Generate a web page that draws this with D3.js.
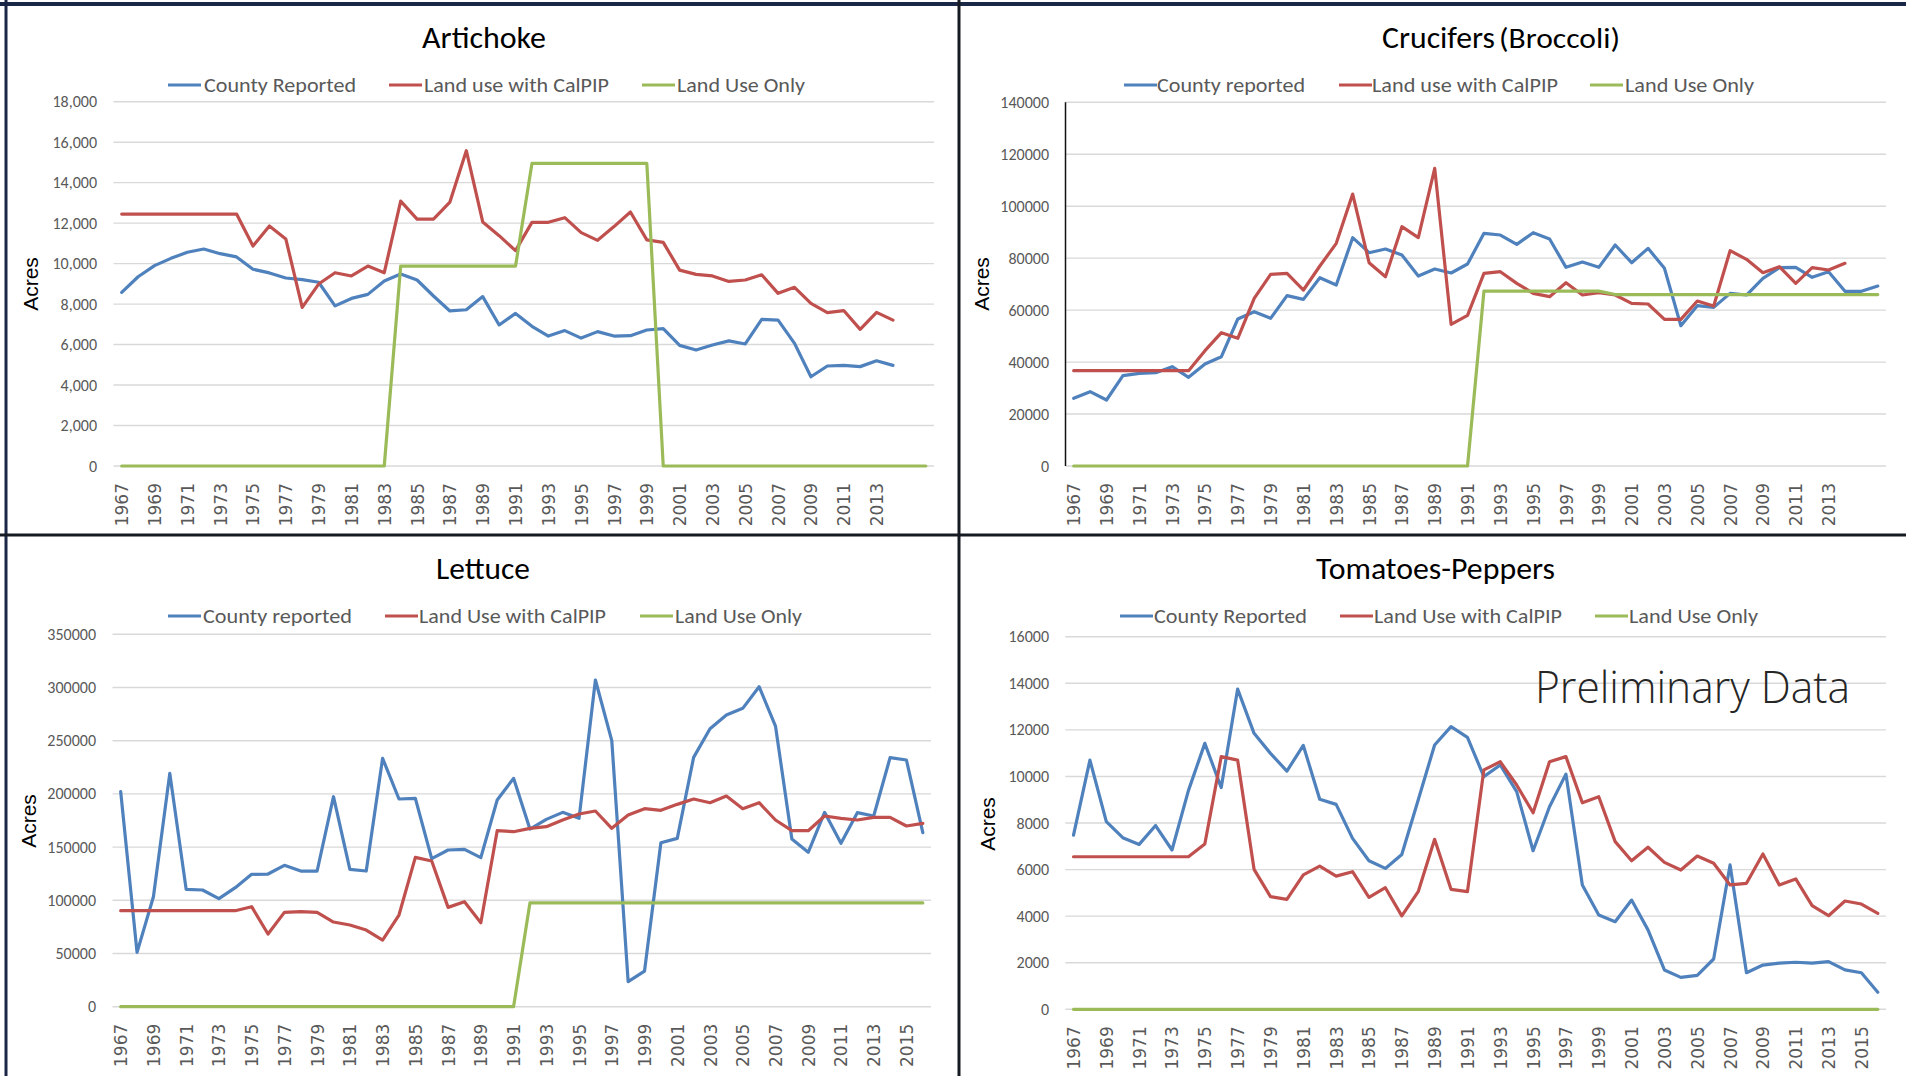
<!DOCTYPE html>
<html>
<head>
<meta charset="utf-8">
<script src="https://cdn.jsdelivr.net/npm/d3@7"></script>
<style>
  body { margin: 0; background: #fff; }
  svg { display: block; }
</style>
</head>
<body>
<svg id="chart" width="1906" height="1076"></svg>
<script>
// ---- data ----
const years = [1967, 1968, 1969, 1970, 1971, 1972, 1973, 1974, 1975, 1976,
               1977, 1978, 1979, 1980, 1981, 1982, 1983, 1984, 1985, 1986,
               1987, 1988, 1989, 1990, 1991, 1992, 1993, 1994, 1995, 1996,
               1997, 1998, 1999, 2000, 2001, 2002, 2003, 2004, 2005, 2006,
               2007, 2008, 2009, 2010, 2011, 2012, 2013, 2014, 2015, 2016];

// every other year gets a label; the top charts stop at 2013
const tickYearsTop = [1967, 1969, 1971, 1973, 1975, 1977, 1979, 1981, 1983, 1985, 1987, 1989,
                      1991, 1993, 1995, 1997, 1999, 2001, 2003, 2005, 2007, 2009, 2011, 2013];
const tickYearsBottom = [1967, 1969, 1971, 1973, 1975, 1977, 1979, 1981, 1983, 1985, 1987, 1989,
                         1991, 1993, 1995, 1997, 1999, 2001, 2003, 2005, 2007, 2009, 2011, 2013, 2015];

// Artichoke (1967-2014 for the first two series)
const artichokeCounty = [8580, 9350, 9900, 10260, 10560, 10720, 10490, 10330, 9720, 9540,
                         9290, 9210, 9080, 7910, 8280, 8480, 9140, 9490, 9190, 8400,
                         7660, 7720, 8370, 6970, 7540, 6900, 6420, 6690, 6320, 6640,
                         6420, 6440, 6720, 6790, 5960, 5730, 5980, 6180, 6030, 7250,
                         7210, 6060, 4410, 4940, 4970, 4910, 5200, 4970];
const artichokeCalPIP = [12450, 12450, 12450, 12450, 12450, 12450, 12450, 12450, 10870, 11860,
                         11220, 7840, 8990, 9550, 9390, 9880, 9550, 13090, 12200, 12200,
                         13040, 15580, 12060, 11380, 10640, 12040, 12040, 12270, 11530, 11150,
                         11830, 12550, 11170, 11050, 9680, 9470, 9390, 9120, 9190, 9450,
                         8530, 8830, 8040, 7580, 7680, 6750, 7590, 7210];
const artichokeLandUse = [0, 0, 0, 0, 0, 0, 0, 0, 0, 0,
                          0, 0, 0, 0, 0, 0, 0, 9880, 9880, 9880,
                          9880, 9880, 9880, 9880, 9880, 14950, 14950, 14950, 14950, 14950,
                          14950, 14950, 14950, 0, 0, 0, 0, 0, 0, 0,
                          0, 0, 0, 0, 0, 0, 0, 0, 0, 0];
const artichokeTicks = [0, 2000, 4000, 6000, 8000, 10000, 12000, 14000, 16000, 18000];
const artichokeLegend = ["County Reported", "Land use with CalPIP", "Land Use Only"];

// Crucifers (Broccoli)
const cruciferCounty = [26050, 28610, 25400, 34770, 35670, 35920, 38230, 34130, 39260, 42080,
                        56580, 59400, 56840, 65560, 64150, 72490, 69670, 87890, 82110, 83520,
                        81210, 73130, 75830, 74290, 77750, 89550, 88910, 85320, 89810, 87370,
                        76470, 78520, 76470, 85060, 78260, 83780, 76080, 54010, 61710, 61070,
                        66460, 65820, 72230, 76340, 76470, 72620, 74800, 67230, 67230, 69280];
const cruciferCalPIP = [36700, 36700, 36700, 36700, 36700, 36700, 36700, 36700, 44390, 51320,
                        49140, 64540, 73770, 74160, 67740, 76980, 85700, 104690, 78260, 72870,
                        92120, 87890, 114570, 54530, 57990, 74160, 74800, 70310, 66460, 65180,
                        70570, 65820, 66720, 65820, 62610, 62350, 56450, 56450, 63510, 61580,
                        82880, 79550, 74410, 76720, 70310, 76340, 75440, 78010];
const cruciferLandUse = [0, 0, 0, 0, 0, 0, 0, 0, 0, 0,
                         0, 0, 0, 0, 0, 0, 0, 0, 0, 0,
                         0, 0, 0, 0, 0, 67300, 67300, 67300, 67300, 67300,
                         67300, 67300, 67300, 66000, 66000, 66000, 66000, 66000, 66000, 66000,
                         66000, 66000, 66000, 66000, 66000, 66000, 66000, 66000, 66000, 66000];
const cruciferTicks = [0, 20000, 40000, 60000, 80000, 100000, 120000, 140000];
const cruciferLegend = ["County reported", "Land use with CalPIP", "Land Use Only"];

// Lettuce
const lettuceCounty = [202080, 51070, 103390, 219310, 110280, 109660, 101510, 111850, 124380, 124690,
                       132840, 127510, 127510, 197380, 129080, 127510, 233410, 195190, 195810, 139110,
                       147250, 147880, 140050, 194250, 214610, 167000, 176080, 182650, 177020, 307030,
                       250010, 23500, 33520, 154140, 158220, 234350, 261290, 274140, 280400, 300770,
                       263800, 157590, 145060, 182650, 153520, 182340, 179210, 234030, 231840, 163540];
const lettuceCalPIP = [90230, 90230, 90230, 90230, 90230, 90230, 90230, 90230, 93990, 68300,
                       88660, 89290, 88660, 79580, 76760, 72060, 62660, 86160, 140360, 136910,
                       93360, 98690, 78950, 165420, 164480, 167620, 169180, 175450, 181090, 183910,
                       167620, 180150, 186100, 184540, 190170, 195190, 191740, 198010, 186100, 191740,
                       175450, 165420, 165420, 179210, 177020, 175450, 177960, 177960, 169810, 172320];
const lettuceLandUse = [0, 0, 0, 0, 0, 0, 0, 0, 0, 0,
                        0, 0, 0, 0, 0, 0, 0, 0, 0, 0,
                        0, 0, 0, 0, 0, 97500, 97500, 97500, 97500, 97500,
                        97500, 97500, 97500, 97500, 97500, 97500, 97500, 97500, 97500, 97500,
                        97500, 97500, 97500, 97500, 97500, 97500, 97500, 97500, 97500, 97500];
const lettuceTicks = [0, 50000, 100000, 150000, 200000, 250000, 300000, 350000];
const lettuceLegend = ["County reported", "Land Use with CalPIP", "Land Use Only"];

// Tomatoes-Peppers
const tomatoCounty = [7480, 10700, 8060, 7370, 7080, 7890, 6840, 9390, 11420, 9520,
                      13750, 11850, 10990, 10230, 11330, 9020, 8800, 7340, 6380, 6050,
                      6650, 8990, 11350, 12140, 11680, 9990, 10490, 9350, 6810, 8700,
                      10100, 5340, 4050, 3760, 4690, 3410, 1690, 1370, 1460, 2160,
                      6200, 1570, 1900, 1980, 2020, 1980, 2050, 1690, 1570, 730];
const tomatoCalPIP = [6550, 6550, 6550, 6550, 6550, 6550, 6550, 6550, 7100, 10850,
                      10700, 6010, 4840, 4720, 5770, 6150, 5720, 5910, 4810, 5220,
                      4010, 5050, 7300, 5150, 5050, 10280, 10630, 9630, 8440, 10630,
                      10850, 8870, 9130, 7200, 6380, 6960, 6310, 5980, 6580, 6270,
                      5340, 5410, 6670, 5340, 5600, 4450, 4020, 4650, 4520, 4120];
const tomatoLandUse = [0, 0, 0, 0, 0, 0, 0, 0, 0, 0,
                       0, 0, 0, 0, 0, 0, 0, 0, 0, 0,
                       0, 0, 0, 0, 0, 0, 0, 0, 0, 0,
                       0, 0, 0, 0, 0, 0, 0, 0, 0, 0,
                       0, 0, 0, 0, 0, 0, 0, 0, 0, 0];
const tomatoTicks = [0, 2000, 4000, 6000, 8000, 10000, 12000, 14000, 16000];
const tomatoLegend = ["County Reported", "Land Use with CalPIP", "Land Use Only"];

const seriesColors = ["#4f81bd", "#c0504d", "#9bbb59"];

// ---- layout ----
const calibri = "Carlito, Calibri, Lato, sans-serif";
const svg = d3.select("#chart");

// panel frames
let frameColor = "#1b2747";
svg.append("line").attr("x1", 0).attr("x2", 1906).attr("y1", 4).attr("y2", 4)
   .style("stroke", frameColor).style("stroke-width", 4);
svg.append("line").attr("x1", 6).attr("x2", 6).attr("y1", 0).attr("y2", 1076)
   .style("stroke", frameColor).style("stroke-width", 3);
svg.append("line").attr("x1", 959).attr("x2", 959).attr("y1", 0).attr("y2", 1076)
   .style("stroke", "#161a22").style("stroke-width", 3);
svg.append("line").attr("x1", 0).attr("x2", 1906).attr("y1", 535).attr("y2", 535)
   .style("stroke", "#161a22").style("stroke-width", 3);

let panels = [
    {
        series: [artichokeCounty, artichokeCalPIP, artichokeLandUse],
        legend: artichokeLegend, ticks: artichokeTicks, tickYears: tickYearsTop,
        fmt: d3.format(","), xr: [113.5, 934], yr: [466, 101.7],
        tickRight: 97, acres: [30, 284],
        title: [{text: "Artichoke", x: 422, w: 124, size: 31}], titleY: 48,
        legendY: 85, markX: [168, 389, 642], textX: [204, 424, 677], textW: [152, 185, 128],
        axisLine: false
    },
    {
        series: [cruciferCounty, cruciferCalPIP, cruciferLandUse],
        legend: cruciferLegend, ticks: cruciferTicks, tickYears: tickYearsTop,
        fmt: d3.format("d"), xr: [1065.5, 1886], yr: [466, 102.3],
        tickRight: 1049, acres: [981, 284],
        title: [{text: "Crucifers", x: 1382, w: 113, size: 31},
                {text: "(Broccoli)", x: 1499, w: 121, size: 29}], titleY: 48,
        legendY: 85, markX: [1124, 1339, 1590], textX: [1157, 1372, 1625], textW: [148, 186, 129],
        axisLine: true
    },
    {
        series: [lettuceCounty, lettuceCalPIP, lettuceLandUse],
        legend: lettuceLegend, ticks: lettuceTicks, tickYears: tickYearsBottom,
        fmt: d3.format("d"), xr: [112.5, 931], yr: [1006.7, 634.3],
        tickRight: 96, acres: [28, 821],
        title: [{text: "Lettuce", x: 436, w: 94, size: 31}], titleY: 579,
        legendY: 616, markX: [168, 385, 640], textX: [203, 419, 675], textW: [149, 187, 127],
        axisLine: false
    },
    {
        series: [tomatoCounty, tomatoCalPIP, tomatoLandUse],
        legend: tomatoLegend, ticks: tomatoTicks, tickYears: tickYearsBottom,
        fmt: d3.format("d"), xr: [1065.3, 1886], yr: [1009.3, 636.7],
        tickRight: 1049, acres: [987, 824],
        title: [{text: "Tomatoes-Peppers", x: 1316, w: 239, size: 31}], titleY: 579,
        legendY: 616, markX: [1120, 1340, 1595], textX: [1154, 1374, 1629], textW: [153, 188, 129],
        axisLine: false
    }
];

function drawPanel(p) {
    let g = svg.append("g");

    let x = d3.scaleBand().domain(years).range(p.xr);
    let y = d3.scaleLinear().domain([0, d3.max(p.ticks)]).range(p.yr);
    let half = x.bandwidth() / 2;

    // gridlines
    g.selectAll("line.grid")
        .data(p.ticks)
        .enter().append("line")
        .attr("class", "grid")
        .attr("x1", p.xr[0]).attr("x2", p.xr[1])
        .attr("y1", d => y(d)).attr("y2", d => y(d))
        .style("stroke", "#d9d9d9").style("stroke-width", 1.4);

    // y tick labels
    g.selectAll("text.ytick")
        .data(p.ticks)
        .enter().append("text")
        .attr("class", "ytick")
        .attr("x", p.tickRight)
        .attr("y", d => y(d) + 5.5)
        .attr("text-anchor", "end")
        .style("font", "16px " + calibri)
        .style("fill", "#595959")
        .text(d => p.fmt(d));

    // x tick labels, rotated
    g.selectAll("text.xtick")
        .data(p.tickYears)
        .enter().append("text")
        .attr("class", "xtick")
        .attr("transform", d => "translate(" + (x(d) + half + 6.5) + "," + (y(0) + 17) + ") rotate(-90)")
        .attr("text-anchor", "end")
        .style("font", "17px 'DejaVu Sans', sans-serif")
        .style("fill", "#595959")
        .text(d => d);

    if (p.axisLine) {
        g.append("line")
            .attr("x1", p.xr[0]).attr("x2", p.xr[0])
            .attr("y1", y(d3.max(p.ticks))).attr("y2", y(0))
            .style("stroke", "#111").style("stroke-width", 1.5);
    }

    // series lines
    let line = d3.line()
        .x((d, i) => x(years[i]) + half)
        .y(d => y(d));

    p.series.forEach(function(s, i) {
        g.append("path")
            .datum(s)
            .attr("d", line)
            .style("fill", "none")
            .style("stroke", seriesColors[i])
            .style("stroke-width", 3.2)
            .style("stroke-linejoin", "round")
            .style("stroke-linecap", "round");
    });

    // axis title
    g.append("text")
        .attr("transform", "translate(" + (p.acres[0] + 8) + "," + p.acres[1] + ") rotate(-90)")
        .attr("text-anchor", "middle")
        .style("font", "21px 'Liberation Sans', Arial, sans-serif")
        .style("fill", "#000")
        .text("Acres");

    // chart title
    p.title.forEach(function(t) {
        g.append("text")
            .attr("x", t.x).attr("y", p.titleY)
            .attr("textLength", t.w).attr("lengthAdjust", "spacingAndGlyphs")
            .style("font", t.size + "px " + calibri)
            .style("fill", "#000")
            .text(t.text);
    });

    // legend
    p.legend.forEach(function(name, i) {
        g.append("line")
            .attr("x1", p.markX[i]).attr("x2", p.markX[i] + 33)
            .attr("y1", p.legendY).attr("y2", p.legendY)
            .style("stroke", seriesColors[i]).style("stroke-width", 3.2);
        g.append("text")
            .attr("x", p.textX[i]).attr("y", p.legendY + 7)
            .attr("textLength", p.textW[i]).attr("lengthAdjust", "spacingAndGlyphs")
            .style("font", "20px " + calibri)
            .style("fill", "#595959")
            .text(name);
    });
}

panels.forEach(drawPanel);

// watermark on the tomato chart
svg.append("text")
    .attr("x", 1535).attr("y", 703)
    .attr("textLength", 315).attr("lengthAdjust", "spacingAndGlyphs")
    .style("font", "300 44px 'Open Sans', Lato, sans-serif")
    .style("fill", "#262626")
    .text("Preliminary Data");
</script>
</body>
</html>
